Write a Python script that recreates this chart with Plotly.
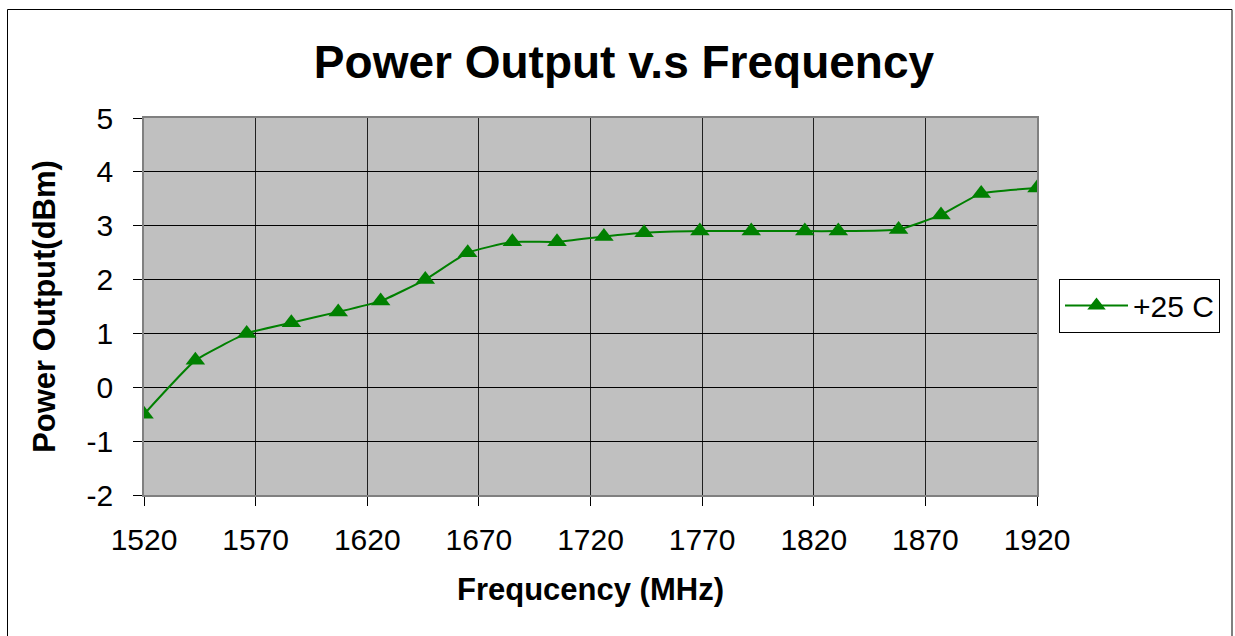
import plotly.graph_objects as go

freq_mhz = [1520, 1543, 1566, 1586, 1607, 1626, 1646, 1665, 1685, 1705,
            1726, 1744, 1769, 1792, 1816, 1831, 1858, 1877, 1895, 1920]
power_dbm = [-0.5, 0.5, 1.0, 1.2, 1.4, 1.6, 2.0, 2.5, 2.7, 2.7,
             2.8, 2.87, 2.9, 2.9, 2.9, 2.9, 2.93, 3.2, 3.6, 3.7]
series_name = "+25 C"
x_ticks = [1520, 1570, 1620, 1670, 1720, 1770, 1820, 1870, 1920]
y_ticks = [-2, -1, 0, 1, 2, 3, 4, 5]
y_tick_labels = ["-2", "-1", "0", "1", "2", "3", "4", "5"]

FONT = "Liberation Sans, Arial, sans-serif"
GREEN = "#008000"

fig = go.Figure()
fig.add_trace(go.Scatter(
    x=freq_mhz, y=power_dbm, name=series_name,
    mode="lines+markers",
    line=dict(color=GREEN, width=2, shape="spline", smoothing=0.4),
    marker=dict(symbol="triangle-up", size=17, color=GREEN),
))

L, R, T, B = 144, 1037, 118, 495
W, H = 1235, 636
pw, ph = R - L, B - T

def px(x):
    return (x - L) / pw

def py(y):
    return (B - y) / ph

fig.update_layout(
    width=W, height=H,
    margin=dict(l=L, r=W - R, t=T, b=H - B),
    paper_bgcolor="white",
    plot_bgcolor="#C0C0C0",
    font=dict(family=FONT, size=30, color="black"),
    title=dict(text="<b>Power Output v.s Frequency</b>", x=624 / W, xanchor="center",
               y=1 - 62 / H, yanchor="middle", font=dict(size=46, family=FONT)),
    showlegend=True,
    legend=dict(x=px(1059), xanchor="left", y=py(305.5), yanchor="middle",
                bordercolor="black", borderwidth=1, bgcolor="white",
                font=dict(size=30, family=FONT), itemwidth=63),
    shapes=[dict(type="rect", xref="paper", yref="paper",
                 x0=px(7.5), x1=px(1232), y0=py(650), y1=py(9.5),
                 line=dict(color="black", width=1), layer="below")],
)

fig.update_xaxes(
    range=[1520, 1920], tickvals=x_ticks, ticktext=[str(v) for v in x_ticks],
    showgrid=True, gridcolor="#202020", gridwidth=1,
    showline=True, linecolor="#808080", linewidth=1.5, mirror=True,
    ticks="outside", ticklen=9, tickcolor="black",
    ticklabelstandoff=8,
    zeroline=False,
    title=dict(text="<b>Frequcency (MHz)</b>", font=dict(size=31, family=FONT), standoff=24),
)
fig.update_yaxes(
    range=[-2, 5], tickvals=y_ticks, ticktext=y_tick_labels,
    showgrid=True, gridcolor="black", gridwidth=1,
    showline=True, linecolor="#808080", linewidth=1.5, mirror=True,
    ticks="outside", ticklen=9, tickcolor="black",
    ticklabelstandoff=14,
    zeroline=False,
    title=dict(text="<b>Power Output(dBm)</b>", font=dict(size=31, family=FONT), standoff=22),
)

fig.write_html("out.html", config={"displayModeBar": False},
               post_script="document.body.style.margin='0';document.body.style.overflow='hidden';")
